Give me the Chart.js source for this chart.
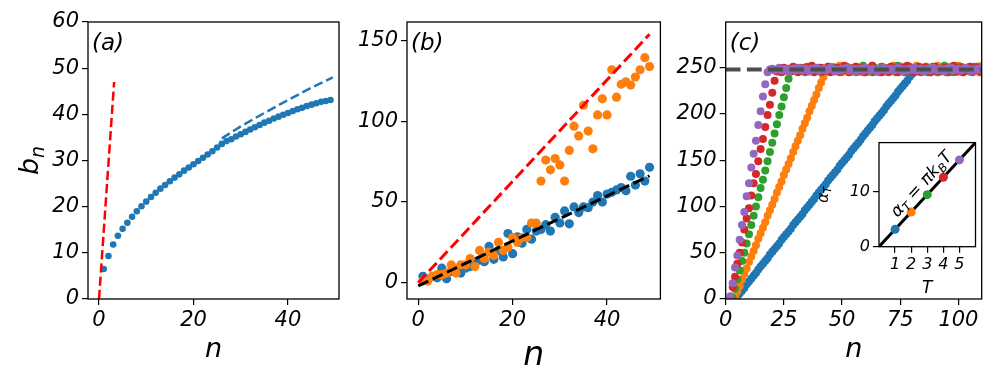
<!DOCTYPE html>
<html>
<head>
<meta charset="utf-8">
<script src="https://cdn.jsdelivr.net/npm/chart.js@4.4.1/dist/chart.umd.min.js"></script>
<style>
  body { margin: 0; background: #fff; width: 996px; height: 386px; position: relative; overflow: hidden; }
  canvas { position: absolute; }
</style>
</head>
<body>
<canvas id="pa" width="345" height="386" style="left:0;top:0"></canvas>
<canvas id="pb" width="320" height="386" style="left:345px;top:0"></canvas>
<canvas id="pc" width="331" height="386" style="left:665px;top:0"></canvas>
<canvas id="pi" width="170" height="175" style="left:810px;top:130px"></canvas>
<script>
// ---- data ----
const nAB = [1,2,3,4,5,6,7,8,9,10,11,12,13,14,15,16,17,18,19,20,21,22,23,24,25,
  26,27,28,29,30,31,32,33,34,35,36,37,38,39,40,41,42,43,44,45,46,47,48,49];

// panel (a)
const aTicksX = [0, 20, 40];
const aTicksY = [0, 10, 20, 30, 40, 50, 60];
const aBn = [6.5, 9.3, 11.8, 13.7, 15.2, 16.5, 17.8, 19.0, 20.1, 21.1,
  22.1, 23.0, 23.9, 24.7, 25.5, 26.3, 27.0, 27.8, 28.5, 29.2,
  29.9, 30.6, 31.3, 32.0, 32.8, 33.6, 34.2, 34.6, 35.2, 35.7,
  36.2, 36.7, 37.2, 37.7, 38.2, 38.6, 39.1, 39.5, 39.9, 40.3,
  40.7, 41.1, 41.4, 41.8, 42.1, 42.4, 42.7, 42.9, 43.1];
const aRedX = [0, 3.2];
const aRedY = [0, 47];
const aFitX = [26, 30, 35, 40, 45, 49.5];
const aFitY = [34.8, 37.4, 40.3, 43.1, 45.8, 48.0];

// panel (b)
const bTicksX = [0, 20, 40];
const bTicksY = [0, 50, 100, 150];
const bBlue = [4, 2, 4, 3, 9, 2.5, 7, 8, 6, 9, 10, 13, 14, 13, 22.5, 14.5, 20, 16, 30.5, 18,
  28.5, 24.5, 33, 27, 32, 33, 36, 32, 40.5, 37, 44.5, 36.5, 47, 43.5, 47, 46.5, 50, 54, 50, 55,
  56, 57.5, 59, 57, 66, 60.5, 67.5, 63, 71.5];
const bOrange = [1, 1, 4, 5, 5, 6, 11, 6, 11, 11, 15, 10, 20, 15, 19, 17, 25, 20, 22, 28,
  25, 28, 28, 37, 37, 63, 76, 70, 77, 73, 63, 82, 97, 91, 110, 94, 83, 104, 114, 104,
  132, 115, 123, 124.5, 122.5, 127.5, 132, 139.5, 134];
const bRedX = [0, 49];
const bRedY = [0, 154];
const bBlackX = [0, 49];
const bBlackY = [-2, 66.3];

// panel (c): values for n = 1, 2, 3, ... (ramp, then plateau)
const cTicksX = [0, 25, 50, 75, 100];
const cTicksY = [0, 50, 100, 150, 200, 250];
const cLimit = 248;
const cBlue = [null, null, null, null,
  3,6,9,12,16,19,22,25,28,32, 35,38,41,44,48,51,54,57,60,64, 67,70,73,76,80,83,86,89,92,96,
  99,102,105,108,112,115,118,121,124,128, 131,134,137,140,144,147,150,153,156,160,
  163,166,169,172,176,179,182,185,188,192, 195,198,201,204,208,211,214,217,220,224, 227,230,233,236,240,243,246,
  248,246,250,247,249,245,248,251,247,249, 246,248,250,247,245,249,248,251,246,248, 250,247,249,246,248,251,247,249,248];
const cOrange = [null, null, null,
  2,8,14,21,27,33,40,46,52,58, 65,71,77,83,90,96,102,108,115,121, 127,134,140,146,152,159,165,171,177,184,
  190,196,203,209,215,221,228,234,240,246,
  249,246,251,247,248,252,245,249,247,250,246,248,251,247,249,245,250,248,246,252,
  247,249,245,251,248,246,250,247,252,245,249,248,251,246,247,250,248,245,252,247,
  249,246,251,248,245,250,247,252,246,249,248,245,251,247,250,246,252,248,245,249,
  247,251,246,250,248,245,252];
const cGreen = [null, null,
  1,11,21,31,41,50,60,70,80,90, 100,110,120,129,139,149,159,169,179,189, 199,208,218,228,238,247,
  247,249,246,250,248,245,251,247,249,246, 248,250,245,249,247,251,246,248,250,247,
  245,249,248,251,246,247,250,245,249,248, 252,246,247,249,245,250,248,246,251,247,
  249,245,248,250,246,252,247,249,245,248, 251,246,247,250,248,245,249,251,246,248,
  247,250,245,249,248,252,246,247,250,245, 249,248,251,246,247,250,248,245,249,251, 247,248];
const cRed = [null,
  1,13,24,38,50,61,75,87,98,112,125,135,149,162,173,186,199,210,223,236,246,
  248,245,250,247,249,246,251,248,245,249, 247,250,246,248,252,245,249,247,250,246,
  248,251,245,249,247,250,246,248,252,247, 245,249,248,251,246,247,250,245,249,248,
  252,246,247,249,245,250,248,246,251,247, 249,245,248,250,246,252,247,249,245,248,
  251,246,247,250,248,245,249,251,246,248, 247,250,245,249,248,252,246,247,250,245,
  249,248,251,246,247,250,248,245];
const cPurple = [null,
  3,17,34,47,64,80,94,111,125,142,157,171,188,203,219,232,245,
  248,249,247,248,250,247,248,249,246,248, 249,247,250,248,247,249,248,246,249,248,
  250,247,248,249,247,248,250,249,246,248, 247,249,248,250,247,248,249,246,248,249,
  247,250,248,247,249,248,246,249,248,250, 247,248,249,247,248,250,249,246,248,247,
  249,248,250,247,248,249,246,248,249,247, 250,248,247,249,248,246,249,248,250,247,
  248,249,247,248,250,249,246,248,247,249, 248,250];

// inset
const insetTicksX = [1, 2, 3, 4, 5];
const insetTicksY = [0, 10];
const insetT = [1, 2, 3, 4, 5];
const insetAlpha = [3.14, 6.28, 9.42, 12.57, 15.71];
const insetLineX = [0, 6];
const insetLineY = [0, 18.85];

const COLORS = ['#1f77b4', '#ff7f0e', '#2ca02c', '#d62728', '#9467bd'];

// ---- helpers ----
Chart.defaults.font.family = 'DejaVu Sans';
Chart.defaults.color = '#000';

const xy = (xs, ys) => xs.map((x, i) => ({x, y: ys[i]}));
const seq = arr => arr.map((y, i) => ({x: i + 1, y})).filter(p => p.y !== null);

function axis(min, max, ticks, size, isX, fontSize, extra) {
  return Object.assign({
    type: 'linear', min, max,
    afterBuildTicks: s => { s.ticks = ticks.map(v => ({value: v})); },
    afterFit: s => { if (isX) s.height = size; else s.width = size; },
    ticks: {font: {style: 'italic', size: fontSize}, color: '#000', padding: 3, maxRotation: 0, autoSkip: false},
    grid: {drawOnChartArea: false, drawTicks: true, tickLength: 6, color: '#000', lineWidth: 1.2},
    border: {display: false}
  }, extra || {});
}

function xTitle(text, size, bottom) {
  return {display: true, text, color: '#000', font: {style: 'italic', size}, padding: {top: 0, bottom}};
}

// draws text with subscripts; parts = [text, isSub, isItalic]
function mathText(ctx, parts, cx, cy, size, angle) {
  ctx.save();
  ctx.translate(cx, cy);
  ctx.rotate(angle);
  let w = 0;
  const items = parts.map(([t, sub, it]) => {
    const s = sub ? size * 0.7 : size;
    const font = (it ? 'italic ' : '') + s + 'px "DejaVu Sans"';
    ctx.font = font;
    const o = {t, font, x: w, dy: sub ? size * 0.2 : 0};
    w += ctx.measureText(t).width;
    return o;
  });
  ctx.fillStyle = '#000';
  ctx.textAlign = 'left';
  ctx.textBaseline = 'alphabetic';
  items.forEach(o => { ctx.font = o.font; ctx.fillText(o.t, o.x - w / 2, o.dy + size * 0.3); });
  ctx.restore();
}

const framePlugin = {
  id: 'frame',
  beforeDatasetsDraw(chart, args, opts) {
    if (opts.fill) {
      const a = chart.chartArea;
      chart.ctx.save();
      chart.ctx.fillStyle = '#fff';
      chart.ctx.fillRect(a.left, a.top, a.right - a.left, a.bottom - a.top);
      chart.ctx.restore();
    }
  },
  afterDraw(chart, args, opts) {
    const {ctx, chartArea: a} = chart;
    ctx.save();
    ctx.strokeStyle = '#000';
    ctx.lineWidth = 1.3;
    ctx.strokeRect(a.left, a.top, a.right - a.left, a.bottom - a.top);
    if (opts.label) {
      ctx.font = 'italic 23px "DejaVu Sans"';
      ctx.fillStyle = '#000';
      ctx.textBaseline = 'alphabetic';
      ctx.fillText(opts.label, a.left + 4, a.top + 28);
    }
    ctx.restore();
    (opts.texts || []).forEach(t => {
      const cx = typeof t.x === 'function' ? t.x(chart) : t.x;
      const cy = typeof t.y === 'function' ? t.y(chart) : t.y;
      mathText(ctx, t.parts, cx, cy, t.size, t.angle || 0);
    });
  }
};

function dots(data, color, r, order) {
  return {data, showLine: false, pointRadius: r, pointHoverRadius: r, pointBackgroundColor: color,
    pointBorderWidth: 0, borderWidth: 0, clip: 0, order};
}
function dashed(data, color, lw, order, solid) {
  return {data, showLine: true, borderColor: color, borderWidth: lw, pointRadius: 0,
    borderDash: solid ? [] : [3.7 * lw, 1.6 * lw], clip: 0, order, tension: 0, fill: false};
}

const base = {
  responsive: false, animation: false, events: [],
  plugins: {legend: {display: false}, tooltip: {enabled: false}}
};

// ---- panel (a) ----
new Chart(document.getElementById('pa'), {
  type: 'scatter',
  data: {datasets: [
    dots(xy(nAB, aBn), COLORS[0], 3.3, 3),
    dashed(xy(aFitX, aFitY), COLORS[0], 2.5, 2),
    dashed(xy(aRedX, aRedY), '#ff0000', 2.5, 1)
  ]},
  options: Object.assign({}, base, {
    layout: {padding: {left: 0, top: 22, right: 6, bottom: 0}},
    scales: {
      x: axis(-2.33, 50.8, aTicksX, 87, true, 21, {title: xTitle('n', 27, 20)}),
      y: axis(0, 60, aTicksY, 88, false, 21)
    },
    plugins: Object.assign({}, base.plugins, {frame: {label: '(a)', texts: [
      {parts: [['b', false, true], ['n', true, true]], size: 27, angle: -Math.PI / 2,
        x: c => c.chartArea.left - 58, y: c => (c.chartArea.top + c.chartArea.bottom) / 2}
    ]}})
  }),
  plugins: [framePlugin]
});

// ---- panel (b) ----
new Chart(document.getElementById('pb'), {
  type: 'scatter',
  data: {datasets: [
    dots(xy(nAB, bBlue), COLORS[0], 4.6, 4),
    dots(xy(nAB, bOrange), COLORS[1], 4.6, 3),
    dashed(xy(bRedX, bRedY), '#ff0000', 3, 2),
    dashed(xy(bBlackX, bBlackY), '#000000', 3, 1)
  ]},
  options: Object.assign({}, base, {
    layout: {padding: {left: 0, top: 22, right: 3, bottom: 0}},
    scales: {
      x: axis(-2.38, 51.3, bTicksX, 87, true, 21, {title: xTitle('n', 33, 10)}),
      y: axis(-10.1, 161.6, bTicksY, 62, false, 21)
    },
    plugins: Object.assign({}, base.plugins, {frame: {label: '(b)'}})
  }),
  plugins: [framePlugin]
});

// ---- panel (c) ----
const cSeries = [cBlue, cOrange, cGreen, cRed, cPurple];
new Chart(document.getElementById('pc'), {
  type: 'scatter',
  data: {datasets: cSeries.map((arr, k) => dots(seq(arr), COLORS[k], 4, 10 - k)).concat([
    dashed(xy([0, 110], [cLimit, cLimit]), '#4d4d4d', 4, 0)
  ])},
  options: Object.assign({}, base, {
    layout: {padding: {left: 0, top: 22, right: 14.3, bottom: 0}},
    scales: {
      x: axis(0, 110, cTicksX, 87, true, 21, {title: xTitle('n', 27, 20)}),
      y: axis(0, 299.4, cTicksY, 60.7, false, 21)
    },
    plugins: Object.assign({}, base.plugins, {frame: {label: '(c)'}})
  }),
  plugins: [framePlugin]
});

// ---- inset ----
new Chart(document.getElementById('pi'), {
  type: 'scatter',
  data: {datasets: [
    dashed(xy(insetLineX, insetLineY), '#000000', 3, 2, true),
    {data: xy(insetT, insetAlpha), showLine: false, pointRadius: 4.5, pointBorderWidth: 0,
      pointBackgroundColor: COLORS, clip: 0, order: 1}
  ]},
  options: Object.assign({}, base, {
    layout: {padding: {left: 0, top: 11, right: 4, bottom: 0}},
    scales: {
      x: axis(0, 6, insetTicksX, 58.3, true, 16, {title: xTitle('T', 17, 6)}),
      y: axis(0, 18.85, insetTicksY, 69, false, 16)
    },
    plugins: Object.assign({}, base.plugins, {frame: {fill: true, texts: [
      {parts: [['α', false, true], ['T', true, true]], size: 15, angle: -Math.PI / 2,
        x: c => c.chartArea.left - 56, y: c => (c.chartArea.top + c.chartArea.bottom) / 2},
      {parts: [['α', false, true], ['T', true, true], [' = ', false, false], ['π', false, true],
        ['k', false, true], ['B', true, true], ['T', false, true]], size: 17, angle: -47.5 * Math.PI / 180,
        x: c => c.scales.x.getPixelForValue(2.64), y: c => c.scales.y.getPixelForValue(11.3)}
    ]}})
  }),
  plugins: [framePlugin]
});
</script>
</body>
</html>
